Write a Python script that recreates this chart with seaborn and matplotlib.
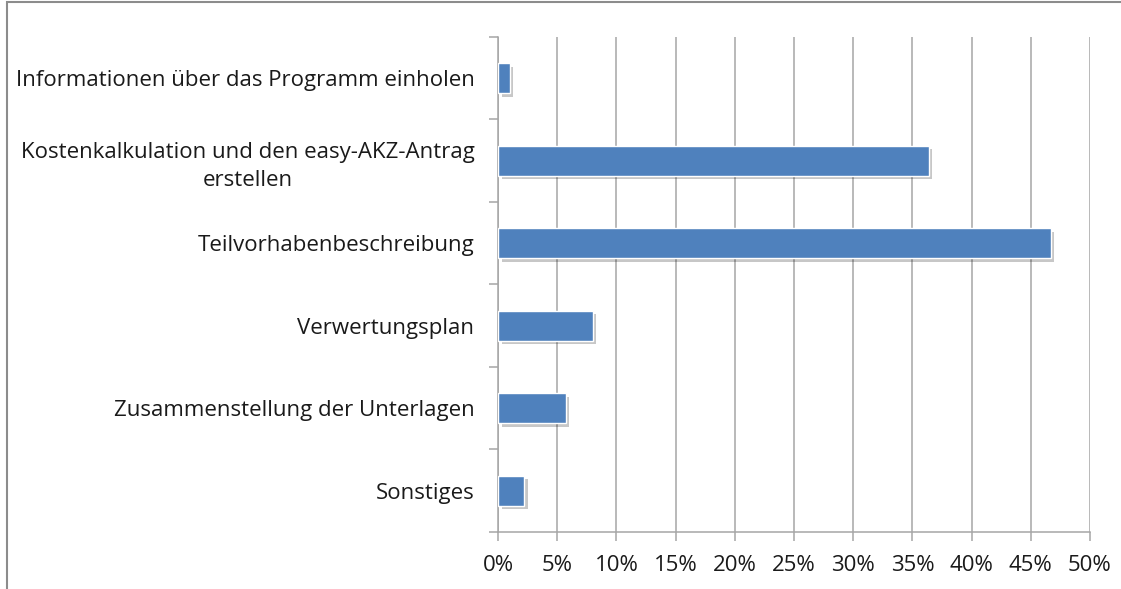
import matplotlib
matplotlib.use("Agg")
import matplotlib.pyplot as plt
import matplotlib.patheffects as pe
from matplotlib.patches import Rectangle
from matplotlib.ticker import PercentFormatter, MultipleLocator
import pandas as pd
import seaborn as sns

# ============================================================
#  Data
# ============================================================
categories = [
    "Informationen über das Programm einholen",
    "Kostenkalkulation und den easy-AKZ-Antrag\nerstellen",
    "Teilvorhabenbeschreibung",
    "Verwertungsplan",
    "Zusammenstellung der Unterlagen",
    "Sonstiges",
]
shares = [1.0, 36.4, 46.7, 8.0, 5.7, 2.2]

df = pd.DataFrame({"category": categories, "share": shares})

# ============================================================
#  Plot
# ============================================================
sns.set_style("white")
plt.rcParams["font.family"] = ["Open Sans", "DejaVu Sans"]

grey = "#a6a6a6"
text_col = "#1a1a1a"
fig = plt.figure(figsize=(11.21, 5.89), dpi=100)
ax = fig.add_axes([0.4443, 0.0968, 0.9723 - 0.4443, 0.9372 - 0.0968])

sns.barplot(data=df, x="share", y="category", orient="h", color="#4f81bd",
            saturation=1, width=0.36, edgecolor="white", linewidth=1.0, ax=ax)

for bar in ax.patches:
    bar.set_path_effects([
        pe.SimplePatchShadow(offset=(2.5, -2.5), shadow_rgbFace="#000000", alpha=0.22),
        pe.Normal(),
    ])
    bar.set_zorder(3)

ax.set_xlim(0, 50)
ax.set_ylim(5.5, -0.5)
ax.xaxis.set_major_locator(MultipleLocator(5))
ax.xaxis.set_major_formatter(PercentFormatter(decimals=0))
ax.grid(axis="x", color=grey, lw=1.1, zorder=0)
ax.set_axisbelow(True)

# y ticks sit on the category boundaries, labels in between
ax.set_yticks([i - 0.5 for i in range(len(categories) + 1)], minor=False)
ax.set_yticklabels([])
ax.set_yticks(range(len(categories)), minor=True)
ax.set_yticklabels(categories, minor=True, multialignment="center", linespacing=1.45)
ax.tick_params(axis="y", which="major", left=True, length=6.5, width=1.1, color=grey, direction="out")
ax.tick_params(axis="y", which="minor", left=False, length=0, pad=17, labelsize=16, labelcolor=text_col)
ax.tick_params(axis="x", bottom=True, length=6.5, width=1.1, color=grey, direction="out",
               pad=10, labelsize=16, labelcolor=text_col)
ax.set_xlabel("")
ax.set_ylabel("")

for side in ["top", "right"]:
    ax.spines[side].set_visible(False)
for side in ["left", "bottom"]:
    ax.spines[side].set_color(grey)
    ax.spines[side].set_linewidth(1.1)

# chart area border (cropped at right/bottom)
fig.patches.append(Rectangle((7 / 1121, -0.1), 1.2, 1.1 - 2 / 589, transform=fig.transFigure,
                             fill=False, edgecolor="#8c8c8c", lw=1.5, clip_on=False))

fig.savefig("out.png", dpi=100)
